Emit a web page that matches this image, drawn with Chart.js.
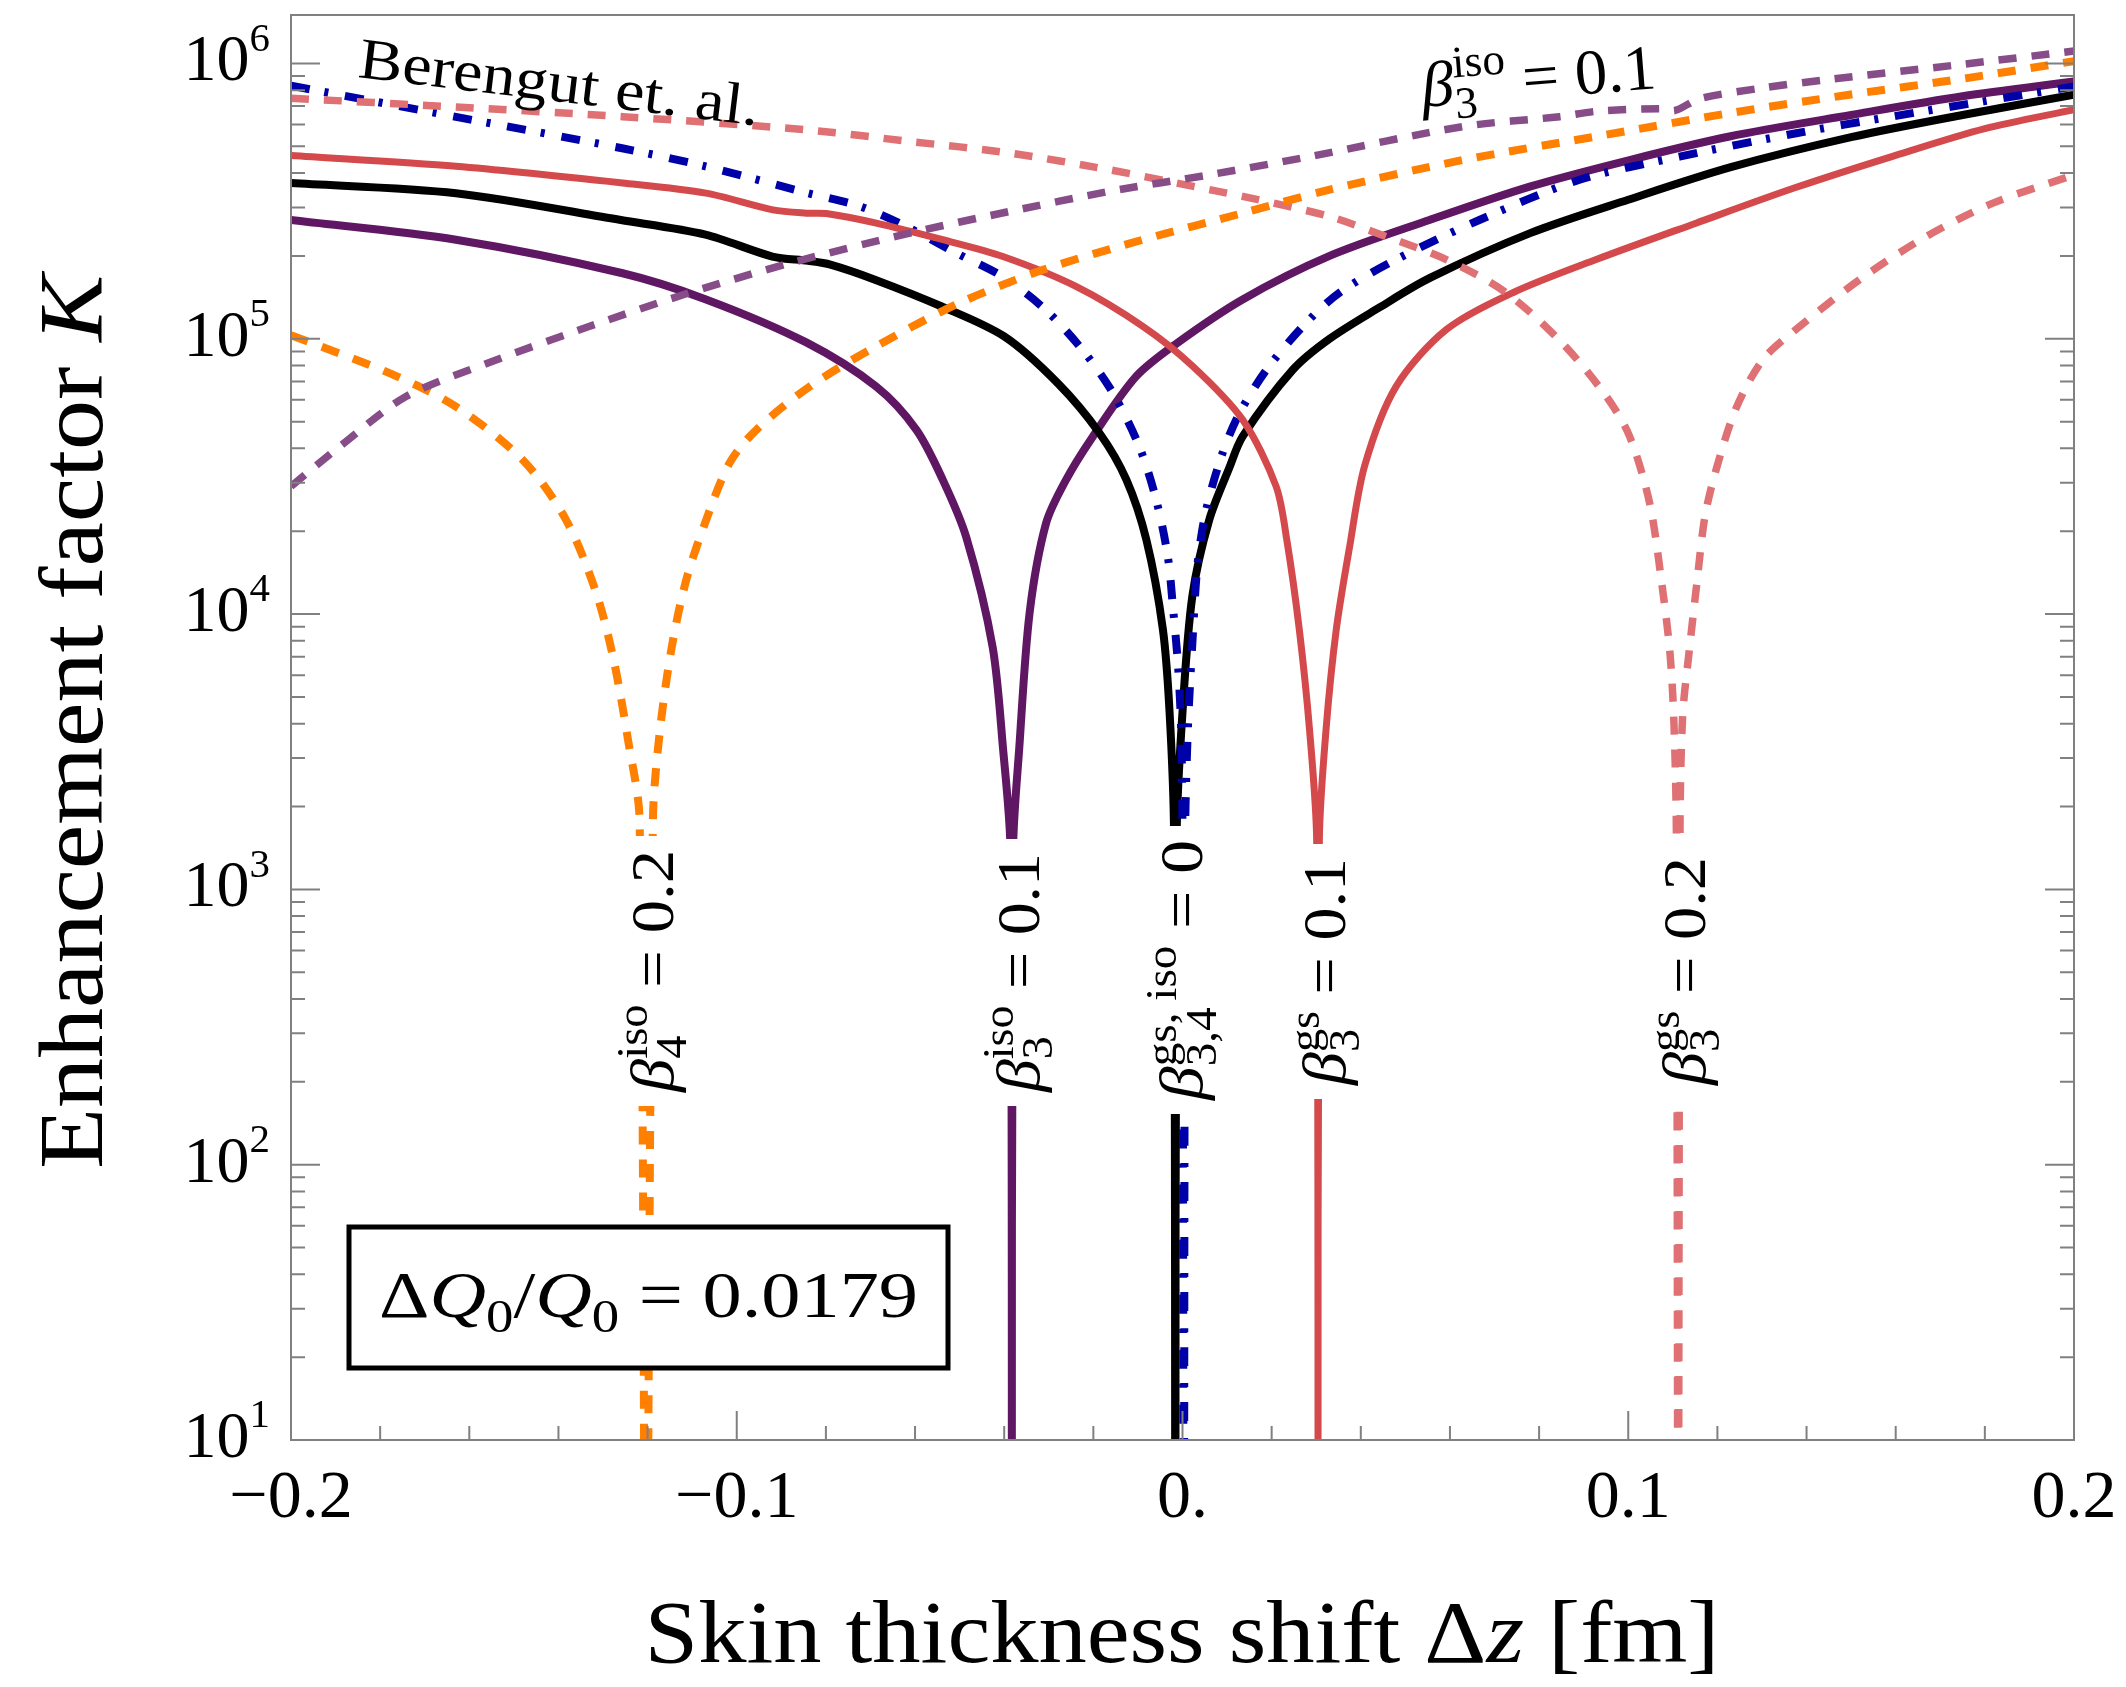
<!DOCTYPE html>
<html>
<head>
<meta charset="utf-8">
<script src="https://cdn.jsdelivr.net/npm/chart.js@4.4.1/dist/chart.umd.min.js"></script>
<style>
  html, body { margin: 0; padding: 0; background: #fff; }
  #wrap { width: 2126px; height: 1687px; }
</style>
</head>
<body>
<div id="wrap"><canvas id="chart" width="2126" height="1687"></canvas></div>
<script>
// values: skin thickness shift dz [fm] -> enhancement factor K
// (each dip goes to zero, K = 1 is just below the axis so the line drops out of view)

// beta_{3,4}^{gs,iso} = 0 (black)
const zeroX = [-0.2, -0.163, -0.126, -0.107, -0.092, -0.084, -0.079, -0.069, -0.054, -0.04, -0.028, -0.0186, -0.0126, -0.0081, -0.0044, -0.0029, -0.0019, -0.0016, -0.0013, 0, 0.0022, 0.006, 0.0105, 0.0135, 0.0247, 0.033, 0.0442, 0.0554, 0.078, 0.1, 0.123, 0.15, 0.175, 0.2];
const zeroK = [3.68e5, 3.38e5, 2.7e5, 2.39e5, 1.99e5, 1.92e5, 1.86e5, 1.64e5, 1.31e5, 1.02e5, 6.9e4, 4.54e4, 3.08e4, 1.86e4, 8.8e3, 4.4e3, 1.6e3, 1, 1.6e3, 4.4e3, 1.16e4, 2.2e4, 3.4e4, 4.42e4, 7.7e4, 1.0e5, 1.3e5, 1.66e5, 2.42e5, 3.2e5, 4.2e5, 5.4e5, 6.5e5, 7.7e5];

// Berengut et al. (blue dot-dash)
const berX = [-0.2, -0.163, -0.126, -0.107, -0.084, -0.0724, -0.062, -0.0508, -0.0403, -0.0306, -0.0224, -0.0156, -0.0097, -0.0059, -0.0033, -0.0021, -0.001, -0.0003, 0.0, 0.0003, 0.0006, 0.0012, 0.0023, 0.0034, 0.0053, 0.009, 0.0128, 0.0188, 0.027, 0.0352, 0.0479, 0.0666, 0.0891, 0.1115, 0.1377, 0.1593, 0.18, 0.2];
const berK = [8.3e5, 6.4e5, 4.93e5, 4.23e5, 3.38e5, 3.03e5, 2.56e5, 2.05e5, 1.68e5, 1.27e5, 9.1e4, 6.35e4, 4.06e4, 2.6e4, 1.62e4, 1.04e4, 6.5e3, 3.8e3, 1.6e3, 1, 1.6e3, 3.8e3, 8.3e3, 1.53e4, 2.39e4, 3.85e4, 5.37e4, 7.7e4, 1.11e5, 1.47e5, 1.94e5, 2.7e5, 3.78e5, 4.59e5, 5.58e5, 6.42e5, 7.3e5, 8.25e5];

// beta_3^iso = 0.1 (dark purple, solid)
const iso3X = [-0.2, -0.163, -0.1256, -0.1069, -0.0844, -0.0687, -0.0597, -0.0538, -0.0485, -0.0426, -0.0403, -0.0386, -0.0383, -0.038, -0.0366, -0.0343, -0.0306, -0.0261, -0.0201, -0.0104, -0.0014, 0.0135, 0.033, 0.0554, 0.0779, 0.1003, 0.1227, 0.15, 0.175, 0.2];
const iso3K = [2.7e5, 2.29e5, 1.73e5, 1.39e5, 9.7e4, 6.7e4, 4.67e4, 3.08e4, 1.9e4, 7.6e3, 3.3e3, 1.4e3, 1, 1.4e3, 3.3e3, 1.01e4, 2.14e4, 3.08e4, 4.42e4, 7.3e4, 9.6e4, 1.39e5, 2.0e5, 2.7e5, 3.57e5, 4.46e5, 5.43e5, 6.5e5, 7.6e5, 8.6e5];

// beta_3^gs = 0.1 (red, solid)
const gs3X = [-0.2, -0.163, -0.1256, -0.1069, -0.0919, -0.0844, -0.0799, -0.0687, -0.0538, -0.0403, -0.0239, -0.0089, 0.0023, 0.0135, 0.021, 0.0234, 0.0262, 0.0285, 0.0301, 0.0304, 0.0307, 0.0322, 0.0345, 0.0375, 0.0409, 0.0479, 0.0592, 0.0741, 0.0928, 0.1152, 0.1377, 0.1593, 0.18, 0.2];
const gs3K = [4.63e5, 4.23e5, 3.68e5, 3.38e5, 2.94e5, 2.86e5, 2.85e5, 2.63e5, 2.29e5, 1.99e5, 1.55e5, 1.11e5, 7.95e4, 5.08e4, 2.91e4, 1.86e4, 8.8e3, 3.8e3, 1.5e3, 1, 1.5e3, 3.8e3, 8.8e3, 1.76e4, 3.47e4, 6.7e4, 1.08e5, 1.47e5, 1.94e5, 2.63e5, 3.55e5, 4.6e5, 5.8e5, 6.8e5];

// beta_4^iso = 0.2 (orange, dashed)
const iso4X = [-0.2, -0.1779, -0.163, -0.148, -0.1383, -0.1315, -0.1276, -0.1244, -0.1218, -0.1204, -0.1188, -0.1173, -0.1147, -0.1115, -0.1073, -0.1016, -0.0956, -0.0837, -0.0687, -0.05, -0.0313, -0.0089, 0.0135, 0.033, 0.0629, 0.0928, 0.1227, 0.1496, 0.175, 0.2];
const iso4K = [1.03e5, 7.5e4, 5.67e4, 3.63e4, 2.2e4, 1.19e4, 6.8e3, 3.5e3, 1.8e3, 1, 1.8e3, 3.7e3, 7.4e3, 1.3e4, 2.1e4, 3.54e4, 4.67e4, 6.7e4, 9.4e4, 1.35e5, 1.78e5, 2.29e5, 2.86e5, 3.48e5, 4.46e5, 5.43e5, 6.6e5, 7.7e5, 8.8e5, 1.02e6];

// beta_3^gs = 0.2 (pink, dashed)
const gs3bX = [-0.2, -0.163, -0.1256, -0.0844, -0.0612, -0.0388, -0.0164, -0.0014, 0.0135, 0.033, 0.0457, 0.0592, 0.0726, 0.0853, 0.0951, 0.1003, 0.1048, 0.1075, 0.1093, 0.1102, 0.1108, 0.1112, 0.1116, 0.1122, 0.1137, 0.1154, 0.1172, 0.1197, 0.1242, 0.1302, 0.1373, 0.1519, 0.1668, 0.1818, 0.2];
const gs3bK = [7.48e5, 6.95e5, 6.41e5, 5.74e5, 5.21e5, 4.73e5, 4.11e5, 3.68e5, 3.29e5, 2.78e5, 2.35e5, 1.94e5, 1.47e5, 9.6e4, 6.17e4, 4.42e4, 2.53e4, 1.3e4, 7.4e3, 4.25e3, 1.6e3, 1, 1.6e3, 4.25e3, 7.4e3, 1.3e4, 2.26e4, 3.34e4, 5.6e4, 8.4e4, 1.07e5, 1.64e5, 2.35e5, 3.11e5, 3.94e5];

// beta_3^iso = 0.1 (light purple, dashed, top label)
const iso3dX = [-0.2, -0.1891, -0.1742, -0.1555, -0.133, -0.1106, -0.0882, -0.0612, -0.0388, -0.0164, 0.006, 0.0285, 0.0629, 0.0846, 0.0928, 0.107, 0.1105, 0.116, 0.1302, 0.1444, 0.1743, 0.2];
const iso3dK = [2.91e4, 4.06e4, 6.17e4, 8.2e4, 1.11e5, 1.47e5, 1.88e5, 2.42e5, 2.9e5, 3.43e5, 3.94e5, 4.59e5, 5.9e5, 6.41e5, 6.7e5, 6.85e5, 6.75e5, 7.45e5, 8.15e5, 8.73e5, 9.9e5, 1.11e6];

// ticks
const xMajor = [-0.2, -0.1, 0, 0.1, 0.2];
const xLabels = ['\u22120.2', '\u22120.1', '0.', '0.1', '0.2'];
const yDecades = [1, 2, 3, 4, 5, 6];

const FONT = '"Liberation Serif", "Times New Roman", serif';

const pts = (xs, ks) => xs.map((x, i) => ({ x: x, y: ks[i] }));
const dipOf = (xs, ks) => xs[ks.indexOf(Math.min(...ks))];

// tiny text layout with sub/superscripts
function layoutRich(ctx, segs, size, scr, raise) {
  let x = 0, run = null;
  const items = [];
  for (const s of segs) {
    const sz = s.pos ? size * scr : size;
    const font = (s.it ? 'italic ' : '') + sz + 'px ' + FONT;
    ctx.font = font;
    const w = ctx.measureText(s.t).width;
    if (s.pos) {
      if (!run) run = { start: x, end: x };
      items.push({ t: s.t, font: font, x: run.start, dy: s.pos === 'sup' ? -raise * size : 0.22 * size });
      run.end = Math.max(run.end, run.start + w);
      x = run.end;
    } else {
      run = null;
      items.push({ t: s.t, font: font, x: x, dy: 0 });
      x += w;
    }
  }
  return { items: items, width: x };
}

function rich(ctx, segs, o) {
  const L = layoutRich(ctx, segs, o.size, o.scr || 0.7, o.raise || 0.42);
  const sx = o.width ? o.width / L.width : 1;
  const off = o.align === 'center' ? -L.width / 2 : o.align === 'right' ? -L.width : 0;
  ctx.save();
  ctx.translate(o.x, o.y);
  ctx.rotate((o.angle || 0) * Math.PI / 180);
  ctx.scale(sx, 1);
  ctx.fillStyle = '#000';
  ctx.textAlign = 'left';
  ctx.textBaseline = 'alphabetic';
  L.items.forEach(it => {
    ctx.font = it.font;
    ctx.fillText(it.t, off + it.x, it.dy);
  });
  ctx.restore();
}

const beta = { t: '\u03b2', it: true };

// vertical labels sitting in the dips
const dipLabels = [
  { xs: iso4X, ks: iso4K, start: 1092, len: 242, segs: [beta, { t: 'iso', pos: 'sup' }, { t: '4', pos: 'sub' }, { t: ' = 0.2' }] },
  { xs: iso3X, ks: iso3K, start: 1092, len: 239, segs: [beta, { t: 'iso', pos: 'sup' }, { t: '3', pos: 'sub' }, { t: ' = 0.1' }] },
  { xs: zeroX, ks: zeroK, start: 1100, len: 260, segs: [beta, { t: 'gs, iso', pos: 'sup' }, { t: '3,4', pos: 'sub' }, { t: ' = 0' }] },
  { xs: gs3X, ks: gs3K, start: 1085, len: 227, segs: [beta, { t: 'gs', pos: 'sup' }, { t: '3', pos: 'sub' }, { t: ' = 0.1' }] },
  { xs: gs3bX, ks: gs3bK, start: 1085, len: 228, segs: [beta, { t: 'gs', pos: 'sup' }, { t: '3', pos: 'sub' }, { t: ' = 0.2' }] }
];

const decor = {
  id: 'decor',
  afterDatasetsDraw(chart) {
    const { ctx, chartArea: a, scales } = chart;
    const xs = scales.x, ys = scales.y;

    // white gaps + rotated labels
    dipLabels.forEach(l => {
      const px = xs.getPixelForValue(dipOf(l.xs, l.ks));
      ctx.save();
      ctx.fillStyle = '#fff';
      ctx.fillRect(px - 17, l.start - l.len - 14, 34, l.len + 28);
      ctx.restore();
      rich(ctx, l.segs, { x: px + 27, y: l.start, angle: -90, size: 62, width: l.len });
    });

    // box
    ctx.save();
    ctx.fillStyle = '#fff';
    ctx.fillRect(349, 1227, 599, 141);
    ctx.strokeStyle = '#000';
    ctx.lineWidth = 5;
    ctx.strokeRect(349, 1227, 599, 141);
    ctx.restore();
    rich(ctx, [{ t: '\u0394' }, { t: 'Q', it: true }, { t: '0', pos: 'sub' }, { t: '/' }, { t: 'Q', it: true }, { t: '0', pos: 'sub' }, { t: ' = 0.0179' }],
      { x: 648.5, y: 1317, size: 66, width: 539, align: 'center' });

    // frame and inward ticks
    ctx.save();
    ctx.strokeStyle = '#808080';
    ctx.lineWidth = 2;
    ctx.strokeRect(a.left, a.top, a.right - a.left, a.bottom - a.top);
    ctx.beginPath();
    for (let i = 0; i <= 20; i++) {
      const px = xs.getPixelForValue(-0.2 + i * 0.02);
      const len = i % 5 === 0 ? 29 : 14;
      ctx.moveTo(px, a.bottom);
      ctx.lineTo(px, a.bottom - len);
    }
    yDecades.forEach(d => {
      for (let m = 1; m <= 9; m++) {
        const v = m * Math.pow(10, d);
        if (v < ys.min || v > ys.max) continue;
        const py = ys.getPixelForValue(v);
        const len = m === 1 ? 29 : 14;
        ctx.moveTo(a.left, py);
        ctx.lineTo(a.left + len, py);
        ctx.moveTo(a.right - len, py);
        ctx.lineTo(a.right, py);
      }
    });
    ctx.stroke();
    ctx.restore();

    // tick labels
    xMajor.forEach((v, i) => {
      rich(ctx, [{ t: xLabels[i] }], { x: xs.getPixelForValue(v), y: 1517, size: 68, align: 'center' });
    });
    yDecades.forEach(d => {
      const py = ys.getPixelForValue(Math.pow(10, d));
      rich(ctx, [{ t: '10' }, { t: String(d), pos: 'sup' }], { x: 270, y: py + 17, size: 66, scr: 0.62, raise: 0.45, align: 'right' });
    });

    // axis titles
    rich(ctx, [{ t: 'Skin thickness shift \u0394' }, { t: 'z', it: true }, { t: ' [fm]' }],
      { x: 1182, y: 1662, size: 88, width: 1075, align: 'center' });
    rich(ctx, [{ t: 'Enhancement factor ' }, { t: 'K', it: true }],
      { x: 102, y: 722, size: 90, width: 894, align: 'center', angle: -90 });

    // curve notes
    rich(ctx, [{ t: 'Berengut et. al.' }], { x: 357, y: 77, size: 58, width: 403, angle: 6.9 });
    rich(ctx, [beta, { t: 'iso', pos: 'sup' }, { t: '3', pos: 'sub' }, { t: ' = 0.1' }],
      { x: 1423, y: 107, size: 64, width: 235, angle: -4.6 });
  }
};

const line = (xs, ks, color, width, dash, order) => ({
  data: pts(xs, ks),
  borderColor: color,
  borderWidth: width,
  borderDash: dash,
  order: order,
  clip: 0
});

new Chart(document.getElementById('chart'), {
  type: 'line',
  data: {
    datasets: [
      line(iso3dX, iso3dK, '#864d88', 7.5, [18, 15], 1),
      line(iso4X, iso4K, '#ff7f00', 8, [18, 15], 2),
      line(gs3bX, gs3bK, '#df7073', 7.5, [18, 15], 3),
      line(gs3X, gs3K, '#d4494b', 7, [], 4),
      line(berX, berK, '#0000a8', 8, [19, 15, 4, 17], 5),
      line(zeroX, zeroK, '#000000', 8, [], 6),
      line(iso3X, iso3K, '#5f1763', 8, [], 7)
    ]
  },
  options: {
    responsive: false,
    devicePixelRatio: 1,
    animation: false,
    events: [],
    layout: { padding: { left: 291, right: 52, top: 15, bottom: 247 } },
    plugins: { legend: { display: false }, tooltip: { enabled: false } },
    elements: {
      point: { radius: 0 },
      line: { tension: 0.3, borderJoinStyle: 'round', borderCapStyle: 'butt' }
    },
    scales: {
      x: { type: 'linear', min: -0.2, max: 0.2, bounds: 'data', display: false },
      y: { type: 'logarithmic', min: 10, max: 1.5e6, bounds: 'data', display: false }
    }
  },
  plugins: [decor]
});
</script>
</body>
</html>
